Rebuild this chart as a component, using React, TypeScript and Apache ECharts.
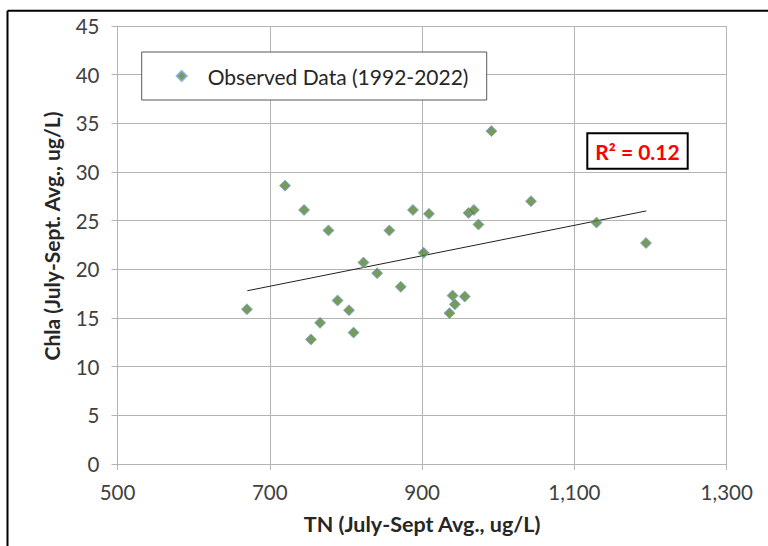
import React, { useEffect, useRef } from "react";
import * as echarts from "echarts";

// Observed data (1992-2022): TN (ug/L) and Chla (ug/L), July-Sept averages
const tnValues = [670, 720, 745, 777, 823, 841, 789, 804, 766, 754, 810, 857, 872, 888, 909, 902, 940, 943, 936, 956, 961, 968, 974, 991, 1043, 1129, 1194];
const chlaValues = [15.9, 28.6, 26.1, 24.0, 20.7, 19.6, 16.8, 15.8, 14.5, 12.8, 13.5, 24.0, 18.2, 26.1, 25.7, 21.7, 17.3, 16.4, 15.5, 17.2, 25.8, 26.1, 24.6, 34.2, 27.0, 24.8, 22.7];

// Linear trend line endpoints
const trendX = [670.5, 1194.4];
const trendY = [17.8, 26.0];

const xTicks = [500, 700, 900, 1100, 1300];
const yTicks = [0, 5, 10, 15, 20, 25, 30, 35, 40, 45];

const legendLabel = "Observed Data (1992-2022)";
const rSquaredLabel = "R² = 0.12";
const xTitle = "TN (July-Sept Avg., ug/L)";
const yTitle = "Chla (July-Sept. Avg., ug/L)";

const FONT = "Lato, 'Open Sans', sans-serif";

export default function App() {
  const ref = useRef<HTMLDivElement>(null);

  useEffect(() => {
    if (!ref.current) return;
    const chart = echarts.init(ref.current, undefined, { renderer: "svg" });
    const scatterData = tnValues.map((x, i) => [x, chlaValues[i]]);
    const trendData = trendX.map((x, i) => [x, trendY[i]]);

    chart.setOption({
      animation: false,
      backgroundColor: "#ffffff",
      textStyle: { fontFamily: FONT },
      grid: { left: 117.5, right: 41.3, top: 26, bottom: 82, containLabel: false },
      xAxis: {
        type: "value",
        min: xTicks[0],
        max: xTicks[xTicks.length - 1],
        interval: 200,
        name: xTitle,
        nameLocation: "middle",
        nameGap: 49,
        nameTextStyle: { fontFamily: FONT, fontSize: 21.5, fontWeight: "bold", color: "#262626" },
        axisLine: { show: true, onZero: false, lineStyle: { color: "#b4b4b4", width: 1 } },
        axisTick: { show: true, inside: false, length: 6, lineStyle: { color: "#b4b4b4" } },
        axisLabel: {
          margin: 17,
          fontFamily: FONT,
          fontSize: 20.5,
          color: "#404040",
          formatter: (v: number) => v.toLocaleString("en-US"),
        },
        splitLine: { show: true, lineStyle: { color: "#b4b4b4", width: 1 } },
      },
      yAxis: {
        type: "value",
        min: yTicks[0],
        max: yTicks[yTicks.length - 1],
        interval: 5,
        name: yTitle,
        nameLocation: "middle",
        nameGap: 56,
        nameTextStyle: {
          fontFamily: FONT,
          fontSize: 21,
          fontWeight: "bold",
          color: "#262626",
          padding: [0, 0, 0, 18],
        },
        axisLine: { show: true, lineStyle: { color: "#b4b4b4", width: 1 } },
        axisTick: { show: true, inside: false, length: 6, lineStyle: { color: "#b4b4b4" } },
        axisLabel: { margin: 18, fontFamily: FONT, fontSize: 20.5, color: "#404040" },
        splitLine: { show: true, lineStyle: { color: "#b4b4b4", width: 1 } },
      },
      legend: {
        show: true,
        left: 141.7,
        top: 52,
        orient: "horizontal",
        padding: [13, 16, 13, 34],
        backgroundColor: "#ffffff",
        borderColor: "#595959",
        borderWidth: 1,
        borderRadius: 0,
        itemWidth: 10,
        itemHeight: 10,
        z: 20,
        data: [{ name: legendLabel, icon: "diamond" }],
        textStyle: {
          fontFamily: FONT,
          fontSize: 21,
          color: "#262626",
          padding: [0, 0, 0, 16],
          width: 263,
          lineHeight: 22,
        },
        selectedMode: false,
      },
      graphic: [
        {
          type: "line",
          shape: { x1: 7.5, y1: 10.7, x2: 768, y2: 10.7 },
          style: { stroke: "#000000", lineWidth: 2 },
          z: 30,
        },
        {
          type: "line",
          shape: { x1: 7.5, y1: 10.7, x2: 7.5, y2: 546 },
          style: { stroke: "#000000", lineWidth: 2 },
          z: 30,
        },
        {
          type: "rect",
          shape: { x: 587.3, y: 133.3, width: 100.4, height: 35.5 },
          style: { fill: "#ffffff", stroke: "#000000", lineWidth: 2 },
          z: 25,
        },
        {
          type: "text",
          x: 637.5,
          y: 151.3,
          style: {
            text: rSquaredLabel,
            fill: "#ff0000",
            font: `bold 21px ${FONT}`,
            align: "center",
            verticalAlign: "middle",
          },
          z: 26,
        },
      ],
      series: [
        {
          name: legendLabel,
          type: "scatter",
          data: scatterData,
          symbol: "diamond",
          symbolSize: 11,
          itemStyle: { color: "#548235", borderColor: "#7fa6d6", borderWidth: 1 },
          z: 5,
        },
        {
          name: "trend",
          type: "line",
          data: trendData,
          showSymbol: false,
          symbol: "none",
          lineStyle: { color: "#222222", width: 1 },
          z: 4,
          silent: true,
        },
      ],
    });

    return () => {
      chart.dispose();
    };
  }, []);

  return (
    <div
      ref={ref}
      style={{ position: "absolute", left: 0, top: 0, width: 768, height: 546 }}
    />
  );
}
